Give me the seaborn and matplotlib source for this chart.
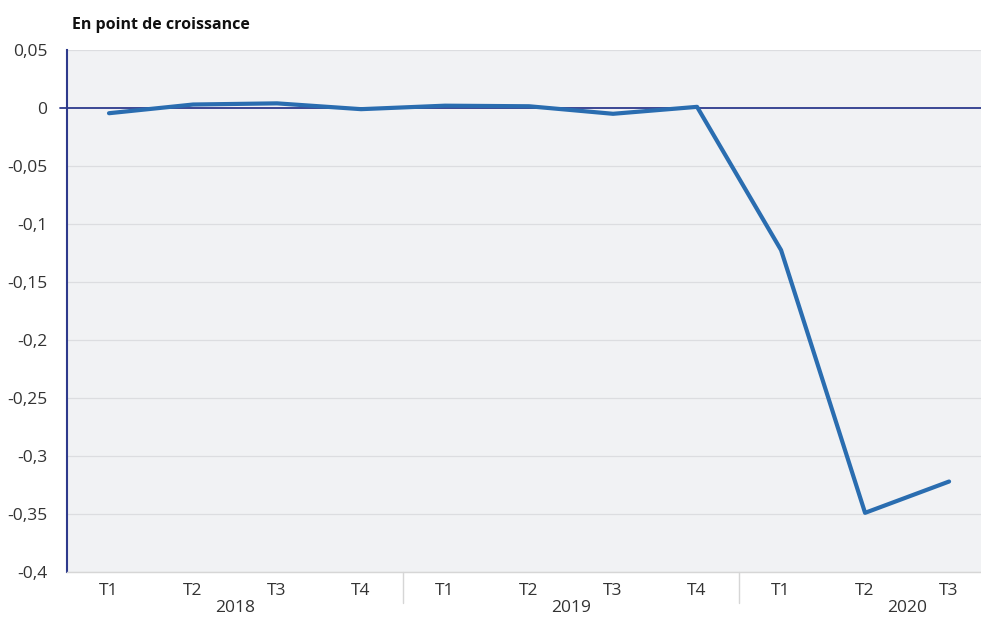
import pandas as pd
import seaborn as sns
import matplotlib.pyplot as plt
import matplotlib.transforms as mtransforms

# values (growth points)
quarters = ['T1', 'T2', 'T3', 'T4', 'T1', 'T2', 'T3', 'T4', 'T1', 'T2', 'T3']
years = ['2018', '2019', '2020']
values = [-0.0045, 0.003, 0.004, -0.001, 0.002, 0.0015, -0.005, 0.001, -0.1225, -0.349, -0.322]
yticks = [0.05, 0, -0.05, -0.1, -0.15, -0.2, -0.25, -0.3, -0.35, -0.4]

df = pd.DataFrame({'pos': range(len(values)), 'val': values})

sns.set_style("white")
plt.rcParams['font.family'] = ['Open Sans', 'DejaVu Sans']

fig = plt.figure(figsize=(9.81, 6.18), dpi=100)
ax = fig.add_axes([67 / 981, 1 - 572 / 618, 1 - 67 / 981, (572 - 50) / 618])
ax.set_facecolor('#f1f2f4')

sns.lineplot(data=df, x='pos', y='val', color='#2a6db0', linewidth=3, ax=ax, zorder=4)

ax.set_xlim(-0.5, 10.38)
ax.set_ylim(-0.4, 0.05)

for y in yticks:
    if y != 0:
        ax.axhline(y, color='#dcdde0', linewidth=0.9, zorder=1)
ax.axhline(0, xmin=-0.008, color='#2e3a8c', linewidth=1.3, zorder=3, clip_on=False)

ax.set_yticks(yticks)
ax.set_yticklabels([('%g' % v).replace('.', ',') for v in yticks])
ax.tick_params(axis='y', length=0, pad=14, labelsize=12.5, labelcolor='#333333')

ax.set_xticks(range(len(quarters)))
ax.set_xticklabels(quarters)
ax.set_xticks([i + 0.5 for i in range(len(quarters) - 1)], minor=True)
ax.tick_params(axis='x', which='major', length=0, pad=8, labelsize=12.5, labelcolor='#333333')
ax.tick_params(axis='x', which='minor', length=7, width=1, color='#d6d6d6')

for s in ['top', 'right']:
    ax.spines[s].set_visible(False)
ax.spines['left'].set_color('#2e3a8c')
ax.spines['left'].set_linewidth(1.5)
ax.spines['bottom'].set_color('#d6d6d6')
ax.spines['bottom'].set_linewidth(1)

# year separators and labels
for x in [3.5, 7.5]:
    ax.axvline(x, ymin=-0.06, ymax=0, color='#d6d6d6', linewidth=1, clip_on=False)
trans = mtransforms.blended_transform_factory(ax.transData, ax.transAxes)
for x, yr in zip([1.5, 5.5, 9.5], years):
    ax.text(x, -0.069, yr, transform=trans, ha='center', va='center', fontsize=12.5, color='#333333')

ax.set_xlabel('')
ax.set_ylabel('')
fig.text(72 / 981, 1 - 25 / 618, 'En point de croissance', ha='left', va='center',
         fontsize=11.5, fontweight='bold', color='#111111')

fig.savefig('out.png', dpi=100)
